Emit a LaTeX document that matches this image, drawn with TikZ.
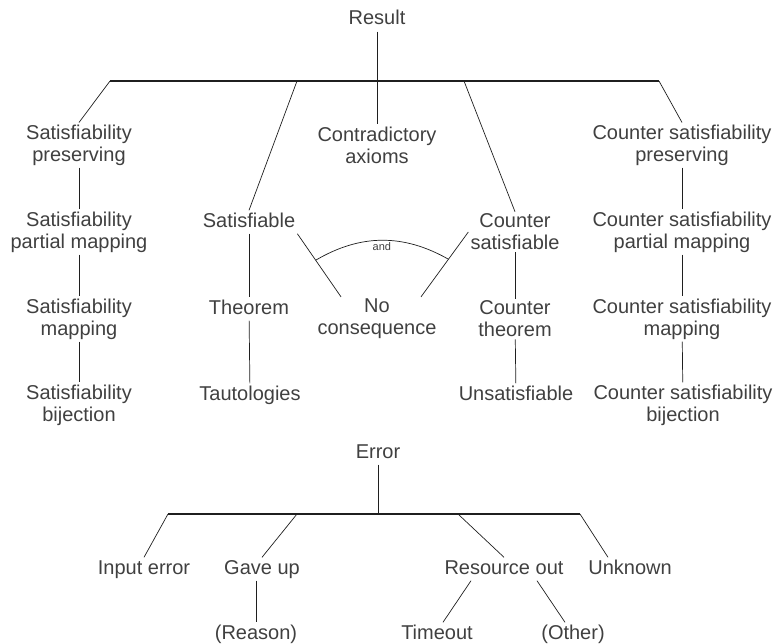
\documentclass[tikz,border=0pt]{standalone}
\usepackage{fontspec}
\setmainfont{Liberation Sans}
\colorlet{mygray}{black!75}
\colorlet{mydark}{black!88}

\begin{document}
\begin{tikzpicture}[x=1pt,y=-1pt]
\useasboundingbox (0,0) rectangle (775,644);
\tikzset{Label/.style ={font=\fontsize{20}{22}\selectfont, align=center, inner sep=2pt, text=mygray}}
\tikzset{Single/.style ={Label, text height=14.5pt, text depth=4.5pt}}
\tikzset{Branch/.style ={draw=mydark, line width=0.7pt}}
\tikzset{Bar/.style ={draw=mydark, line width=1.6pt}}
\node[Single] (res) at (377,20) {Result};
\node[Label] (sp) at (79,145) {Satisfiability\\preserving};
\node[Label] (ca) at (377,145) {Contradictory\\axioms};
\node[Label] (csp) at (682,145) {Counter satisfiability\\preserving};
\node[Single] (sat) at (249,222) {Satisfiable};
\node[Label] (spm) at (79,232) {Satisfiability\\partial mapping};
\node[Label] (csat) at (515,232) {Counter\\satisfiable};
\node[Label] (cspm) at (682,232) {Counter satisfiability\\partial mapping};
\node[Single] (thm) at (249,309) {Theorem};
\node[Label] (ncons) at (377,319) {No\\consequence};
\node[Label] (cthm) at (515,319) {Counter\\theorem};
\node[Label] (sm) at (79,319) {Satisfiability\\mapping};
\node[Label] (csm) at (682,319) {Counter satisfiability\\mapping};
\node[Label] (sbij) at (79,405) {Satisfiability\\bijection};
\node[Single] (taut) at (250,395) {Tautologies};
\node[Single] (unsat) at (516,395) {Unsatisfiable};
\node[Label] (csbij) at (683,405) {Counter satisfiability\\bijection};
\node[Single] (err) at (378,453) {Error};
\node[Single] (inp) at (144,569) {Input error};
\node[Single] (gup) at (262,569) {Gave up};
\node[Single] (rout) at (504,569) {Resource out};
\node[Single] (unk) at (630,569) {Unknown};
\node[Single] (reason) at (256,634) {(Reason)};
\node[Single] (tout) at (437,634) {Timeout};
\node[Single] (other) at (573,634) {(Other)};
\coordinate (r1) at (110,81);
\coordinate (r2) at (297,81);
\coordinate (r3) at (464,81);
\coordinate (r4) at (659,81);
\coordinate (e1) at (168,514);
\coordinate (e2) at (297,514);
\coordinate (e3) at (458,514);
\coordinate (e4) at (580,514);
\draw[Bar] (r1) -- (r4);
\draw[Bar] (e1) -- (e4);
\draw[Branch] (res) -- (ca);
\draw[Branch] (r1) -- (sp.north);
\draw[Branch] (r2) -- (sat.north);
\draw[Branch] (r3) -- (csat.north);
\draw[Branch] (r4) -- (csp.north);
\draw[Branch] (sp) -- (spm);
\draw[Branch] (spm) -- (sm);
\draw[Branch] (sm) -- (sbij);
\draw[Branch] (sat) -- (thm);
\draw[Branch] (thm) -- (taut);
\draw[Branch] (csat) -- (cthm);
\draw[Branch] (cthm) -- (unsat);
\draw[Branch] (csp) -- (cspm);
\draw[Branch] (cspm) -- (csm);
\draw[Branch] (csm) -- (csbij);
\draw[Branch] (sat.south east) -- coordinate[pos=0.42] (and1) ([xshift=-36pt]ncons.north);
\draw[Branch] (csat.west) -- coordinate[pos=0.42] (and2) ([xshift=44pt]ncons.north);
\draw[Branch] (and1) to[bend left=30] node[below, font=\fontsize{11}{12}\selectfont, text=mygray, inner sep=2pt] {and} (and2);
\draw[Branch] (err) -- (err |- e1);
\draw[Branch] (e1) -- (inp.north);
\draw[Branch] (e2) -- (gup.north);
\draw[Branch] (e3) -- (rout.north);
\draw[Branch] (e4) -- ([xshift=-22pt]unk.north);
\draw[Branch] (reason.north |- gup.south) -- (reason.north);
\draw[Branch] ([xshift=-33pt]rout.south) -- ([xshift=6pt]tout.north);
\draw[Branch] ([xshift=33pt]rout.south) -- ([xshift=-8pt]other.north);
\end{tikzpicture}
\end{document}
